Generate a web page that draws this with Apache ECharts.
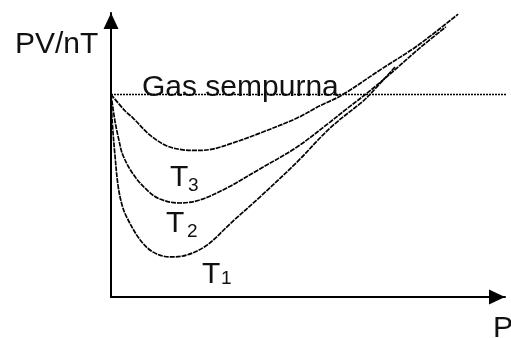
<!DOCTYPE html>
<html>
<head>
<meta charset="utf-8">
<script src="https://cdn.jsdelivr.net/npm/echarts@6/dist/echarts.min.js"></script>
<style>
  html, body { margin: 0; padding: 0; background: #fff; }
  #chart { width: 511px; height: 338px; }
</style>
</head>
<body>
<div id="chart"></div>
<script>
// PV/nT against P for a real gas at three temperatures, compared with the ideal gas line.
// Values are in arbitrary units (axis runs 0..100 both ways).
const idealLevel = 71.3;
const idealLine = [[0, idealLevel], [102, idealLevel]];

const curveT3 = [
  [0, 71.3], [3.6, 65.5], [5.6, 63.0], [9.9, 57.0], [14.2, 53.2], [18.3, 51.8],
  [21.3, 51.6], [25.1, 51.9], [30.2, 53.9], [37.8, 57.7], [47.2, 63.0], [53.0, 67.3],
  [58.6, 71.1], [69.0, 80.6], [77.7, 88.4], [88.1, 99.6]
];
const curveT2 = [
  [0, 71.3], [1.0, 62.0], [2.0, 55.3], [3.0, 50.0], [5.6, 43.3], [9.1, 37.7],
  [12.4, 34.5], [17.5, 33.1], [22.6, 34.2], [29.4, 38.4], [37.8, 45.1], [47.2, 52.8],
  [55.6, 61.6], [59.4, 65.8], [65.0, 71.8], [70.8, 78.5], [78.4, 87.7], [85.0, 95.1]
];
const curveT1 = [
  [0, 71.3], [0.3, 62.0], [1.0, 50.0], [1.8, 39.1], [2.8, 32.4], [4.1, 27.8],
  [7.4, 20.1], [10.7, 15.8], [15.0, 14.1], [19.3, 14.8], [24.4, 18.3], [30.7, 26.4],
  [37.8, 35.2], [47.2, 47.5], [55.6, 59.5], [64.0, 69.0], [65.7, 71.3], [72.1, 81.0]
];

const FONT = '"Liberation Sans", Arial, sans-serif';
const INK = '#111';

const chart = echarts.init(document.getElementById('chart'), null, { renderer: 'canvas' });

function axisCommon() {
  return {
    type: 'value',
    min: 0,
    max: 100,
    axisLine: {
      show: true,
      onZero: false,
      symbol: ['none', 'triangle'],
      symbolSize: [15, 16],
      symbolOffset: [0, -8],
      lineStyle: { color: '#000', width: 2 }
    },
    axisTick: { show: false },
    axisLabel: { show: false },
    splitLine: { show: false }
  };
}

function curve(name, data) {
  return {
    name: name,
    type: 'line',
    data: data,
    smooth: 0.35,
    showSymbol: false,
    clip: false,
    silent: true,
    lineStyle: { color: '#000', width: 1.7, type: [5, 1] }
  };
}

function text(str, x, y, size) {
  return {
    type: 'text',
    x: x,
    y: y,
    silent: true,
    style: {
      text: str,
      font: size + 'px ' + FONT,
      fill: INK,
      verticalAlign: 'middle',
      align: 'left'
    }
  };
}

chart.setOption({
  animation: false,
  backgroundColor: '#fff',
  grid: { left: 111, right: 6, top: 13, bottom: 41 },
  xAxis: axisCommon(),
  yAxis: axisCommon(),
  series: [
    {
      name: 'Gas sempurna',
      type: 'line',
      data: idealLine,
      showSymbol: false,
      clip: false,
      silent: true,
      lineStyle: { color: '#000', width: 1.5, type: [2, 1] }
    },
    curve('T3', curveT3),
    curve('T2', curveT2),
    curve('T1', curveT1)
  ],
  graphic: [
    text('PV/nT', 15, 45, 30),
    text('P', 493, 329, 30),
    text('Gas sempurna', 142, 87.5, 30),
    text('T', 170, 178, 30), text('3', 188, 186, 19),
    text('T', 166, 223.5, 30), text('2', 187, 232, 19),
    text('T', 202, 274.5, 30), text('1', 221, 279, 19)
  ]
});
</script>
</body>
</html>
